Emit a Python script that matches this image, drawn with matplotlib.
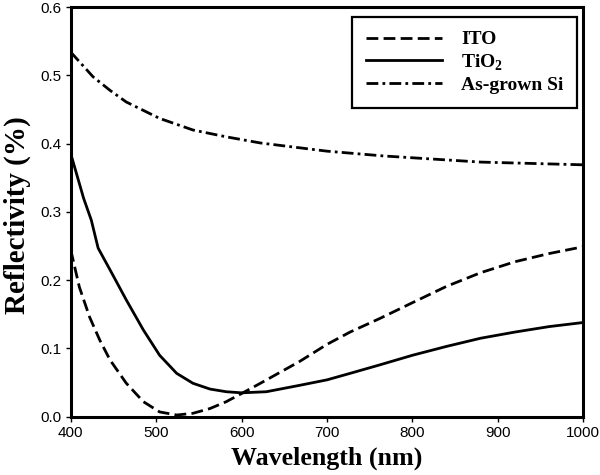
import matplotlib
matplotlib.use('Agg')
import matplotlib.pyplot as plt

# ---- data ----
ito_wl = [400, 410, 422, 434, 446, 465, 485, 504, 524, 543, 563, 582, 600, 622,
          645, 668, 700, 727, 762, 800, 840, 880, 920, 960, 1000]
ito_r = [0.244, 0.190, 0.146, 0.112, 0.083, 0.049, 0.022, 0.007, 0.0025, 0.005,
         0.012, 0.022, 0.034, 0.049, 0.065, 0.081, 0.106, 0.124, 0.144, 0.167,
         0.191, 0.211, 0.227, 0.239, 0.249]

tio2_wl = [400, 415, 424, 432, 446, 465, 485, 504, 524, 543, 563, 582, 600, 629,
           668, 700, 727, 762, 800, 840, 880, 920, 960, 1000]
tio2_r = [0.385, 0.320, 0.288, 0.247, 0.215, 0.171, 0.127, 0.090, 0.0635, 0.049,
          0.0405, 0.0366, 0.035, 0.0366, 0.046, 0.054, 0.0635, 0.076, 0.090,
          0.103, 0.115, 0.124, 0.132, 0.138]

si_wl = [400, 426, 446, 465, 504, 543, 582, 622, 700, 766, 880, 1000]
si_r = [0.534, 0.498, 0.478, 0.461, 0.437, 0.420, 0.410, 0.401, 0.389, 0.382,
        0.373, 0.369]

x_ticks = [400, 500, 600, 700, 800, 900, 1000]
y_ticks = [0.0, 0.1, 0.2, 0.3, 0.4, 0.5, 0.6]

plt.rcParams['font.family'] = 'Liberation Sans'
plt.rcParams['mathtext.fontset'] = 'custom'
plt.rcParams['mathtext.rm'] = 'Liberation Serif:bold'
plt.rcParams['mathtext.bf'] = 'Liberation Serif:bold'
plt.rcParams['lines.scale_dashes'] = False

fig = plt.figure(figsize=(6, 4.75), dpi=100)
ax = fig.add_axes([0.118, 0.1227, 0.854, 0.8623])

ax.plot(ito_wl, ito_r, color='black', lw=2.0, dashes=(8.5, 3.8), label='ITO')
ax.plot(tio2_wl, tio2_r, color='black', lw=2.0, label='TiO$_2$')
ax.plot(si_wl, si_r, color='black', lw=2.0, dashes=(8.5, 3.0, 2.0, 3.0),
        label='As-grown Si')

ax.set_xlim(400, 1000)
ax.set_ylim(0, 0.6)
ax.set_xticks(x_ticks)
ax.set_yticks(y_ticks)
ax.set_yticklabels([f'{v:.1f}' for v in y_ticks])
ax.tick_params(axis='both', direction='out', length=3.5, width=1.0,
               labelsize=11, pad=3, top=False, right=False)
for s in ax.spines.values():
    s.set_linewidth(2.2)

ax.set_xlabel('Wavelength (nm)', family='Liberation Serif', weight='bold',
              fontsize=18.7, labelpad=5)
ax.set_ylabel('Reflectivity (%)', family='Liberation Serif', weight='bold',
              fontsize=21)
# right edge of the rotated label sits ~31 px from the figure edge
ax.yaxis.set_label_coords(-0.078, 0.492)

# legend box sits ~6 px from the right spine and ~10 px below the top
leg = ax.legend(loc='upper right', bbox_to_anchor=(1 - 6 / 512, 1 - 10 / 410),
                borderaxespad=0,
                prop={'family': 'Liberation Serif', 'weight': 'bold', 'size': 14},
                handlelength=3.9, handletextpad=1.0, labelspacing=0.2,
                borderpad=0.7, fancybox=False, framealpha=1, edgecolor='black')
leg.get_frame().set_linewidth(1.6)

fig.savefig('out.png', dpi=100)
